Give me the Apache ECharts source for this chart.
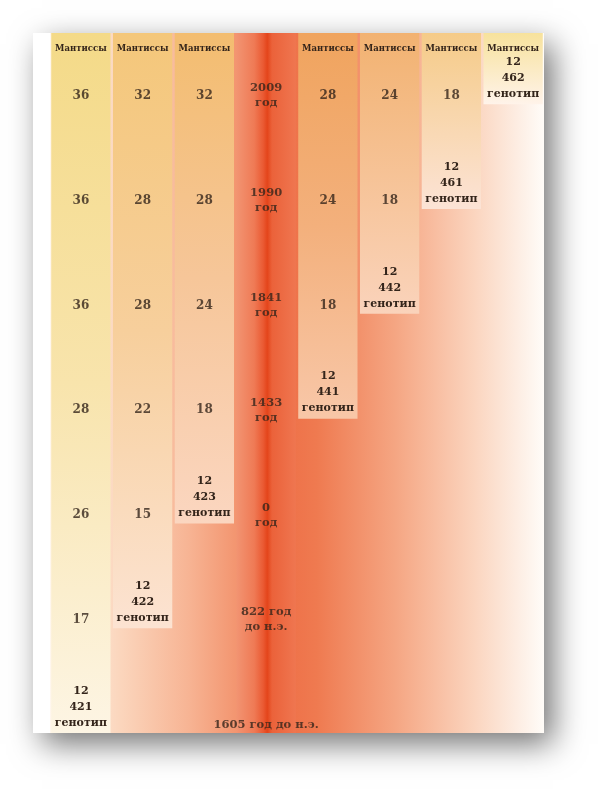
<!DOCTYPE html>
<html>
<head>
<meta charset="utf-8">
<script src="https://cdn.jsdelivr.net/npm/echarts@6/dist/echarts.min.js"></script>
<style>
  html, body { margin: 0; padding: 0; background: #fff; }
  #main { width: 610px; height: 800px; }
</style>
</head>
<body>
<div id="main"></div>
<script>
// колонки таблицы (4-я — шкала времени)
const columns = ['m1', 'm2', 'm3', 'years', 'm5', 'm6', 'm7', 'm8']
const headers = ['Мантиссы', 'Мантиссы', 'Мантиссы', '', 'Мантиссы', 'Мантиссы', 'Мантиссы', 'Мантиссы']

// мантиссы по строкам сверху вниз
const mantissas = [
    [36, 36, 36, 28, 26, 17],
    [32, 28, 28, 22, 15],
    [32, 28, 24, 18],
    null,
    [28, 24, 18],
    [24, 18],
    [18],
    []
]

// генотип в конце каждой колонки
const genotypes = ['12 421', '12 422', '12 423', null, '12 441', '12 442', '12 461', '12 462']

// годы в центральной колонке
const years = ['2009\nгод', '1990\nгод', '1841\nгод', '1433\nгод', '0\nгод', '822 год\nдо н.э.', '1605 год до н.э.']

const yMin = 0.4
const yMax = 7.08
const textColor = '#33241a'
const serif = 'DejaVu Serif'

const vgrad = (stops) => ({
    type: 'linear', x: 0, y: 0, x2: 0, y2: 1,
    colorStops: stops.map(([offset, color]) => ({offset, color}))
})
const hgrad = (stops) => ({
    type: 'linear', x: 0, y: 0, x2: 1, y2: 0,
    colorStops: stops.map(([offset, color]) => ({offset, color}))
})

const columnFill = [
    vgrad([[0, '#f4da88'], [0.5, '#f8e4ac'], [1, '#fdf5e4']]),
    vgrad([[0, '#f4c77a'], [0.5, '#f7cf9c'], [1, '#fce3d2']]),
    vgrad([[0, '#f3bd70'], [0.5, '#f6c699'], [1, '#fbd6c0']]),
    hgrad([[0, '#f29472'], [0.3, '#ef7a55'], [0.45, '#ea5a33'], [0.52, '#e4451b'], [0.6, '#eb623a'], [1, '#ef7650']]),
    vgrad([[0, '#f0a45e'], [0.5, '#f3b07c'], [1, '#f8c7a8']]),
    vgrad([[0, '#f2b271'], [1, '#fad3bb']]),
    vgrad([[0, '#f5cb88'], [1, '#fce3d6']]),
    vgrad([[0, '#f7e29c'], [1, '#fff3ea']])
]

const genoRow = (i) => (mantissas[i] ? mantissas[i].length + 1 : null)

const barData = columns.map((c, i) => {
    const isYears = genotypes[i] === null
    return {
        value: isYears ? yMax : genoRow(i) + 0.08,
        itemStyle: {color: columnFill[i]},
        label: {
            show: !isYears,
            position: 'insideBottom',
            distance: 2,
            formatter: isYears ? '' : genotypes[i].replace(' ', '\n') + '\nгенотип',
            fontFamily: serif,
            fontWeight: 'bold',
            fontSize: 11,
            lineHeight: 16,
            color: textColor
        }
    }
})

const mantissaPoints = []
mantissas.forEach((vals, c) => {
    if (vals) vals.forEach((v, r) => mantissaPoints.push([c, r + 1, String(v)]))
})
const yearPoints = years.map((t, r) => [3, r + 1, t])

var myChart = echarts.init(document.getElementById('main'))

var option = {
    animation: false,
    backgroundColor: '#ffffff',
    graphic: [
        {
            type: 'rect',
            z: -10,
            shape: {x: 33, y: 33, width: 511, height: 700},
            style: {
                fill: '#ffffff',
                shadowBlur: 30,
                shadowOffsetX: 9,
                shadowOffsetY: 11,
                shadowColor: 'rgba(0,0,0,0.55)'
            }
        },
        {
            type: 'rect',
            z: -9,
            shape: {x: 50, y: 33, width: 494, height: 700},
            style: {
                fill: hgrad([
                    [0, '#fff7ee'], [0.14, '#fbd6bd'], [0.28, '#f7b494'], [0.4, '#f28e67'],
                    [0.46, '#ee6e46'], [0.54, '#ef7a50'], [0.7, '#f5a683'], [0.86, '#fbd5bf'],
                    [0.95, '#fdeee4'], [1, '#fffcf8']
                ])
            }
        }
    ],
    grid: {left: 50, right: 66, top: 33, bottom: 67},
    xAxis: {
        type: 'category',
        position: 'top',
        data: columns,
        z: 10,
        axisLine: {show: false},
        axisTick: {show: false},
        axisLabel: {
            inside: true,
            margin: 11,
            interval: 0,
            formatter: (v, idx) => headers[idx],
            fontFamily: serif,
            fontWeight: 'bold',
            fontSize: 8.5,
            color: textColor
        }
    },
    yAxis: {
        type: 'value',
        inverse: true,
        min: yMin,
        max: yMax,
        show: false
    },
    series: [
        {
            type: 'bar',
            data: barData,
            barCategoryGap: '4%',
            clip: true
        },
        {
            type: 'scatter',
            data: mantissaPoints,
            symbolSize: 1,
            itemStyle: {color: 'rgba(0,0,0,0)'},
            label: {
                show: true,
                position: 'inside',
                formatter: (p) => p.value[2],
                fontFamily: serif,
                fontWeight: 'bold',
                fontSize: 12,
                color: textColor
            }
        },
        {
            type: 'scatter',
            data: yearPoints,
            symbolSize: 1,
            itemStyle: {color: 'rgba(0,0,0,0)'},
            label: {
                show: true,
                position: 'inside',
                formatter: (p) => p.value[2],
                fontFamily: serif,
                fontWeight: 'bold',
                fontSize: 11.5,
                lineHeight: 15,
                color: textColor
            }
        }
    ]
}

myChart.setOption(option)
</script>
</body>
</html>
